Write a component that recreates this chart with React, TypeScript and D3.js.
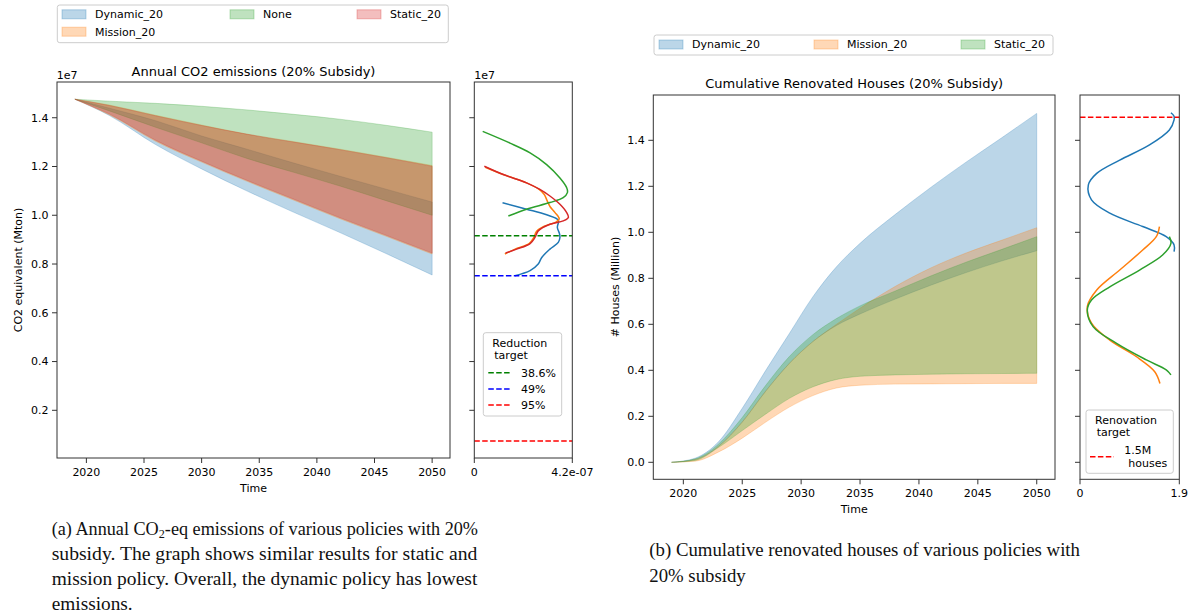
import * as d3 from "d3";
import React from "react";

// tab10 colours used by the figure
const C_BLUE = "#1f77b4";
const C_ORANGE = "#ff7f0e";
const C_GREEN = "#2ca02c";
const C_RED = "#d62728";

// ---- (a) annual CO2 emissions, units of 1e7 ton ----
const co2Years = [2019, 2022, 2026, 2030, 2034, 2038, 2042, 2046, 2050];
const co2DynamicLow = [1.476, 1.409, 1.29, 1.19, 1.098, 1.012, 0.929, 0.843, 0.755];
const co2DynamicHigh = [1.476, 1.439, 1.388, 1.325, 1.27, 1.214, 1.16, 1.107, 1.054];
const co2MissionLow = [1.476, 1.412, 1.304, 1.218, 1.138, 1.062, 0.986, 0.914, 0.841];
const co2MissionHigh = [1.476, 1.452, 1.41, 1.37, 1.332, 1.302, 1.271, 1.238, 1.204];
const co2NoneLow = [1.476, 1.428, 1.361, 1.297, 1.232, 1.176, 1.12, 1.06, 1.0];
const co2NoneHigh = [1.476, 1.468, 1.459, 1.447, 1.432, 1.414, 1.394, 1.369, 1.341];
const co2StaticLow = [1.476, 1.415, 1.308, 1.222, 1.142, 1.066, 0.99, 0.918, 0.845];
const co2StaticHigh = [1.476, 1.45, 1.408, 1.368, 1.332, 1.3, 1.269, 1.236, 1.201];

// density of 2050 emissions, [value (1e7), density (1e-7)]
const kdeCo2Dynamic: [number, number][] = [
  [1.051, 1.21], [1.025, 2.24], [1.002, 3.1], [0.98, 3.6], [0.95, 3.56], [0.925, 3.65],
  [0.909, 3.67], [0.889, 3.6], [0.861, 3.24], [0.827, 2.89], [0.8, 2.74], [0.773, 2.39], [0.752, 1.74],
];
const kdeCo2Mission: [number, number][] = [
  [1.197, 0.47], [1.167, 1.24], [1.133, 2.24], [1.106, 2.78], [1.085, 3.0], [1.06, 3.12],
  [1.035, 3.25], [1.011, 3.46], [0.985, 3.64], [0.972, 3.5], [0.955, 3.0], [0.934, 2.67],
  [0.909, 2.55], [0.884, 2.35], [0.861, 1.75], [0.841, 1.31],
];
const kdeCo2None: [number, number][] = [
  [1.344, 0.36], [1.296, 1.53], [1.256, 2.39], [1.208, 3.1], [1.153, 3.67], [1.113, 3.96],
  [1.093, 3.99], [1.072, 3.81], [1.052, 3.24], [1.025, 2.24], [0.997, 1.46],
];
const kdeCo2Static: [number, number][] = [
  [1.201, 0.43], [1.167, 1.24], [1.133, 2.24], [1.106, 2.81], [1.079, 3.24], [1.045, 3.67],
  [1.011, 3.96], [0.991, 4.03], [0.977, 3.81], [0.963, 3.24], [0.936, 2.74], [0.909, 2.6],
  [0.884, 2.39], [0.861, 1.81], [0.845, 1.34],
];
const co2Targets = [0.916, 0.752, 0.0738];
const co2TargetLabels = ["38.6%", "49%", "95%"];
const co2TargetColors = ["#008000", "#0000ff", "#ff0000"];

// ---- (b) cumulative renovated houses, millions ----
const houseYears = [2019, 2021, 2023, 2025, 2027, 2029, 2031, 2033, 2035, 2038, 2041, 2044, 2047, 2050];
const houseDynamicLow = [0, 0.012, 0.07, 0.175, 0.31, 0.43, 0.525, 0.595, 0.645, 0.71, 0.77, 0.825, 0.875, 0.92];
const houseDynamicHigh = [0, 0.018, 0.09, 0.235, 0.4, 0.56, 0.72, 0.85, 0.952, 1.078, 1.195, 1.305, 1.41, 1.517];
const houseMissionLow = [0, 0.005, 0.045, 0.105, 0.175, 0.24, 0.29, 0.323, 0.335, 0.34, 0.341, 0.342, 0.343, 0.343];
const houseMissionHigh = [0, 0.012, 0.07, 0.175, 0.31, 0.43, 0.525, 0.6, 0.67, 0.765, 0.845, 0.91, 0.965, 1.02];
const houseStaticLow = [0, 0.008, 0.065, 0.138, 0.21, 0.278, 0.328, 0.36, 0.374, 0.38, 0.383, 0.385, 0.386, 0.387];
const houseStaticHigh = [0, 0.015, 0.08, 0.195, 0.335, 0.46, 0.555, 0.625, 0.68, 0.745, 0.81, 0.87, 0.925, 0.981];

// density of 2050 renovated houses, [value (M), density]
const kdeHouseDynamic: [number, number][] = [
  [1.52, 1.74], [1.505, 1.8], [1.489, 1.8], [1.445, 1.71], [1.38, 1.33], [1.314, 0.76],
  [1.256, 0.32], [1.206, 0.16], [1.141, 0.22], [1.083, 0.57], [1.025, 1.2], [0.981, 1.65],
  [0.945, 1.8], [0.916, 1.8],
];
const kdeHouseMission: [number, number][] = [
  [1.025, 1.52], [0.981, 1.46], [0.923, 1.2], [0.836, 0.76], [0.749, 0.32], [0.677, 0.14],
  [0.605, 0.22], [0.531, 0.57], [0.459, 1.08], [0.394, 1.43], [0.343, 1.53],
];
const kdeHouseStatic: [number, number][] = [
  [0.981, 1.71], [0.952, 1.74], [0.901, 1.58], [0.836, 1.14], [0.763, 0.57], [0.706, 0.22],
  [0.662, 0.14], [0.59, 0.25], [0.517, 0.7], [0.445, 1.27], [0.402, 1.65], [0.38, 1.74],
];
const houseTarget = 1.5;

const yearTicks = [2020, 2025, 2030, 2035, 2040, 2045, 2050];
const co2Ticks = [0.2, 0.4, 0.6, 0.8, 1.0, 1.2, 1.4];
const houseTicks = [0, 0.2, 0.4, 0.6, 0.8, 1.0, 1.2, 1.4];

const SANS = "DejaVu Sans, sans-serif";
const SERIF = "Liberation Serif, serif";
const SPINE = "#333";

function Band({ x, y, years, lo, hi, color }: any) {
  const area = d3
    .area<number>()
    .x((d) => x(d))
    .y0((_, i) => y(lo[i]))
    .y1((_, i) => y(hi[i]))
    .curve(d3.curveMonotoneX);
  return (
    <path d={area(years) || ""} fill={color} fillOpacity={0.3} stroke={color} strokeOpacity={0.3} strokeWidth={0.8} />
  );
}

function Kde({ x, y, pts, color }: any) {
  const line = d3
    .line<[number, number]>()
    .x((d) => x(d[1]))
    .y((d) => y(d[0]))
    .curve(d3.curveCatmullRom);
  return <path d={line(pts) || ""} fill="none" stroke={color} strokeWidth={1.5} />;
}

function Frame({ x0, x1, y0, y1 }: any) {
  return <rect x={x0} y={y0} width={x1 - x0} height={y1 - y0} fill="none" stroke={SPINE} strokeWidth={1} />;
}

function YTicks({ y, ticks, x0, labels, fmt }: any) {
  return (
    <g fontFamily={SANS} fontSize={11}>
      {ticks.map((t: number) => (
        <g key={t}>
          <line x1={x0 - 5} x2={x0} y1={y(t)} y2={y(t)} stroke={SPINE} />
          {labels && (
            <text x={x0 - 8.5} y={y(t)} dy="0.35em" textAnchor="end">
              {fmt(t)}
            </text>
          )}
        </g>
      ))}
    </g>
  );
}

function XTicks({ x, ticks, y1, fmt }: any) {
  return (
    <g fontFamily={SANS} fontSize={11}>
      {ticks.map((t: number) => (
        <g key={t}>
          <line x1={x(t)} x2={x(t)} y1={y1} y2={y1 + 5} stroke={SPINE} />
          <text x={x(t)} y={y1 + 17.5} textAnchor="middle">
            {fmt(t)}
          </text>
        </g>
      ))}
    </g>
  );
}

function LegendPatch({ x, y, color, label }: any) {
  return (
    <g>
      <rect x={x} y={y - 4.5} width={24} height={9} fill={color} fillOpacity={0.3} stroke={color} strokeOpacity={0.3} />
      <text x={x + 33} y={y} dy="0.35em" fontFamily={SANS} fontSize={11}>
        {label}
      </text>
    </g>
  );
}

export default function App() {
  // panel (a)
  const aX = d3.scaleLinear().domain([2017.45, 2051.55]).range([57, 450]);
  const aY = d3.scaleLinear().domain([0.0044, 1.5466]).range([458, 82]);
  const aK = d3.scaleLinear().domain([0, 4.2]).range([474.3, 572.3]);
  // panel (b)
  const bX = d3.scaleLinear().domain([2017.45, 2051.55]).range([653.3, 1055]);
  const bY = d3.scaleLinear().domain([-0.0739, 1.597]).range([479.3, 95]);
  const bK = d3.scaleLinear().domain([0, 1.9]).range([1080, 1179.3]);

  const f1 = d3.format(".1f");
  const fy = (d: number) => String(d);

  return (
    <div style={{ position: "absolute", left: 0, top: 0 }}>
      <svg width={1192} height={614} style={{ display: "block", background: "#fff" }}>
        {/* ===== (a) ===== */}
        <g>
          <rect x={57.3} y={5} width={391} height={37.7} rx={2.5} fill="#fff" stroke="#ccc" />
          <LegendPatch x={62} y={14.3} color={C_BLUE} label="Dynamic_20" />
          <LegendPatch x={62} y={31.7} color={C_ORANGE} label="Mission_20" />
          <LegendPatch x={230} y={14.3} color={C_GREEN} label="None" />
          <LegendPatch x={357} y={14.3} color={C_RED} label="Static_20" />

          <Band x={aX} y={aY} years={co2Years} lo={co2DynamicLow} hi={co2DynamicHigh} color={C_BLUE} />
          <Band x={aX} y={aY} years={co2Years} lo={co2MissionLow} hi={co2MissionHigh} color={C_ORANGE} />
          <Band x={aX} y={aY} years={co2Years} lo={co2NoneLow} hi={co2NoneHigh} color={C_GREEN} />
          <Band x={aX} y={aY} years={co2Years} lo={co2StaticLow} hi={co2StaticHigh} color={C_RED} />

          <Frame x0={57} x1={450} y0={82} y1={458} />
          <YTicks y={aY} ticks={co2Ticks} x0={57} labels fmt={f1} />
          <XTicks x={aX} ticks={yearTicks} y1={458} fmt={fy} />
          <text x={253.5} y={75.5} textAnchor="middle" fontFamily={SANS} fontSize={13}>
            Annual CO2 emissions (20% Subsidy)
          </text>
          <text x={56.7} y={79} fontFamily={SANS} fontSize={11}>1e7</text>
          <text x={253.5} y={491.7} textAnchor="middle" fontFamily={SANS} fontSize={11}>Time</text>
          <text transform="translate(18.3,270) rotate(-90)" dy="0.35em" textAnchor="middle" fontFamily={SANS} fontSize={11}>
            CO2 equivalent (Mton)
          </text>

          {/* side density panel */}
          <Kde x={aK} y={aY} pts={kdeCo2Dynamic} color={C_BLUE} />
          <Kde x={aK} y={aY} pts={kdeCo2Mission} color={C_ORANGE} />
          <Kde x={aK} y={aY} pts={kdeCo2None} color={C_GREEN} />
          <Kde x={aK} y={aY} pts={kdeCo2Static} color={C_RED} />
          {co2Targets.map((t, i) => (
            <line key={i} x1={474.3} x2={572.3} y1={aY(t)} y2={aY(t)} stroke={co2TargetColors[i]} strokeWidth={1.5} strokeDasharray="5.5 2.4" />
          ))}
          <Frame x0={474.3} x1={572.3} y0={82} y1={458} />
          <YTicks y={aY} ticks={co2Ticks} x0={474.3} labels={false} fmt={f1} />
          <g fontFamily={SANS} fontSize={11}>
            <line x1={aK(0)} x2={aK(0)} y1={458} y2={463} stroke={SPINE} />
            <line x1={aK(4.2)} x2={aK(4.2)} y1={458} y2={463} stroke={SPINE} />
            <text x={aK(0)} y={475.5} textAnchor="middle">0</text>
            <text x={aK(4.2)} y={475.5} textAnchor="middle">4.2e-07</text>
            <text x={474.3} y={79}>1e7</text>
          </g>
          <g fontFamily={SANS} fontSize={11}>
            <rect x={483.3} y={332.7} width={78.4} height={83.3} rx={2.5} fill="#fff" fillOpacity={0.8} stroke="#ccc" />
            <text x={492.3} y={342.7} dy="0.35em">Reduction</text>
            <text x={494.3} y={355} dy="0.35em">target</text>
            {co2Targets.map((t, i) => (
              <g key={i}>
                <line x1={488.3} x2={512} y1={372.7 + i * 16.2} y2={372.7 + i * 16.2} stroke={co2TargetColors[i]} strokeWidth={1.5} strokeDasharray="5.5 2.4" />
                <text x={521} y={372.7 + i * 16.2} dy="0.35em">{co2TargetLabels[i]}</text>
              </g>
            ))}
          </g>
        </g>

        {/* ===== (b) ===== */}
        <g>
          <rect x={654} y={35} width={399} height={20} rx={2.5} fill="#fff" stroke="#ccc" />
          <LegendPatch x={659} y={44.5} color={C_BLUE} label="Dynamic_20" />
          <LegendPatch x={814} y={44.5} color={C_ORANGE} label="Mission_20" />
          <LegendPatch x={961} y={44.5} color={C_GREEN} label="Static_20" />

          <Band x={bX} y={bY} years={houseYears} lo={houseDynamicLow} hi={houseDynamicHigh} color={C_BLUE} />
          <Band x={bX} y={bY} years={houseYears} lo={houseMissionLow} hi={houseMissionHigh} color={C_ORANGE} />
          <Band x={bX} y={bY} years={houseYears} lo={houseStaticLow} hi={houseStaticHigh} color={C_GREEN} />

          <Frame x0={653.3} x1={1055} y0={95} y1={479.3} />
          <YTicks y={bY} ticks={houseTicks} x0={653.3} labels fmt={f1} />
          <XTicks x={bX} ticks={yearTicks} y1={479.3} fmt={fy} />
          <text x={854.2} y={88} textAnchor="middle" fontFamily={SANS} fontSize={13}>
            Cumulative Renovated Houses (20% Subsidy)
          </text>
          <text x={854.2} y={513} textAnchor="middle" fontFamily={SANS} fontSize={11}>Time</text>
          <text transform="translate(615,287) rotate(-90)" dy="0.35em" textAnchor="middle" fontFamily={SANS} fontSize={11}>
            # Houses (Million)
          </text>

          <Kde x={bK} y={bY} pts={kdeHouseDynamic} color={C_BLUE} />
          <Kde x={bK} y={bY} pts={kdeHouseMission} color={C_ORANGE} />
          <Kde x={bK} y={bY} pts={kdeHouseStatic} color={C_GREEN} />
          <line x1={1080} x2={1179.3} y1={bY(houseTarget)} y2={bY(houseTarget)} stroke="#ff0000" strokeWidth={1.5} strokeDasharray="5.5 2.4" />
          <Frame x0={1080} x1={1179.3} y0={95} y1={479.3} />
          <YTicks y={bY} ticks={houseTicks} x0={1080} labels={false} fmt={f1} />
          <g fontFamily={SANS} fontSize={11}>
            <line x1={bK(0)} x2={bK(0)} y1={479.3} y2={484.3} stroke={SPINE} />
            <line x1={bK(1.9)} x2={bK(1.9)} y1={479.3} y2={484.3} stroke={SPINE} />
            <text x={bK(0)} y={496.8} textAnchor="middle">0</text>
            <text x={bK(1.9)} y={496.8} textAnchor="middle">1.9</text>
          </g>
          <g fontFamily={SANS} fontSize={11}>
            <rect x={1086} y={410} width={87.3} height={63.3} rx={2.5} fill="#fff" fillOpacity={0.8} stroke="#ccc" />
            <text x={1095} y={420} dy="0.35em">Renovation</text>
            <text x={1096.7} y={431.7} dy="0.35em">target</text>
            <line x1={1090} x2={1114} y1={456.7} y2={456.7} stroke="#ff0000" strokeWidth={1.5} strokeDasharray="5.5 2.4" />
            <text x={1124.3} y={450} dy="0.35em">1.5M</text>
            <text x={1128.3} y={462.7} dy="0.35em">houses</text>
          </g>
        </g>

        {/* ===== captions ===== */}
        <g fontFamily={SERIF} fontSize={18} fill="#111">
          <text x={51.7} y={535} textLength={426.3} lengthAdjust="spacingAndGlyphs">
            (a) Annual CO<tspan fontSize={12} dy={3}>2</tspan>
            <tspan dy={-3}>-eq emissions of various policies with 20%</tspan>
          </text>
          <text x={51.7} y={560} textLength={425.6} lengthAdjust="spacingAndGlyphs">
            subsidy. The graph shows similar results for static and
          </text>
          <text x={51.7} y={585} textLength={425.6} lengthAdjust="spacingAndGlyphs">
            mission policy. Overall, the dynamic policy has lowest
          </text>
          <text x={51.7} y={610} textLength={81} lengthAdjust="spacingAndGlyphs">
            emissions.
          </text>
          <text x={649.3} y={556} textLength={430.7} lengthAdjust="spacingAndGlyphs">
            (b) Cumulative renovated houses of various policies with
          </text>
          <text x={649.3} y={582} textLength={96.4} lengthAdjust="spacingAndGlyphs">
            20% subsidy
          </text>
        </g>
      </svg>
    </div>
  );
}
